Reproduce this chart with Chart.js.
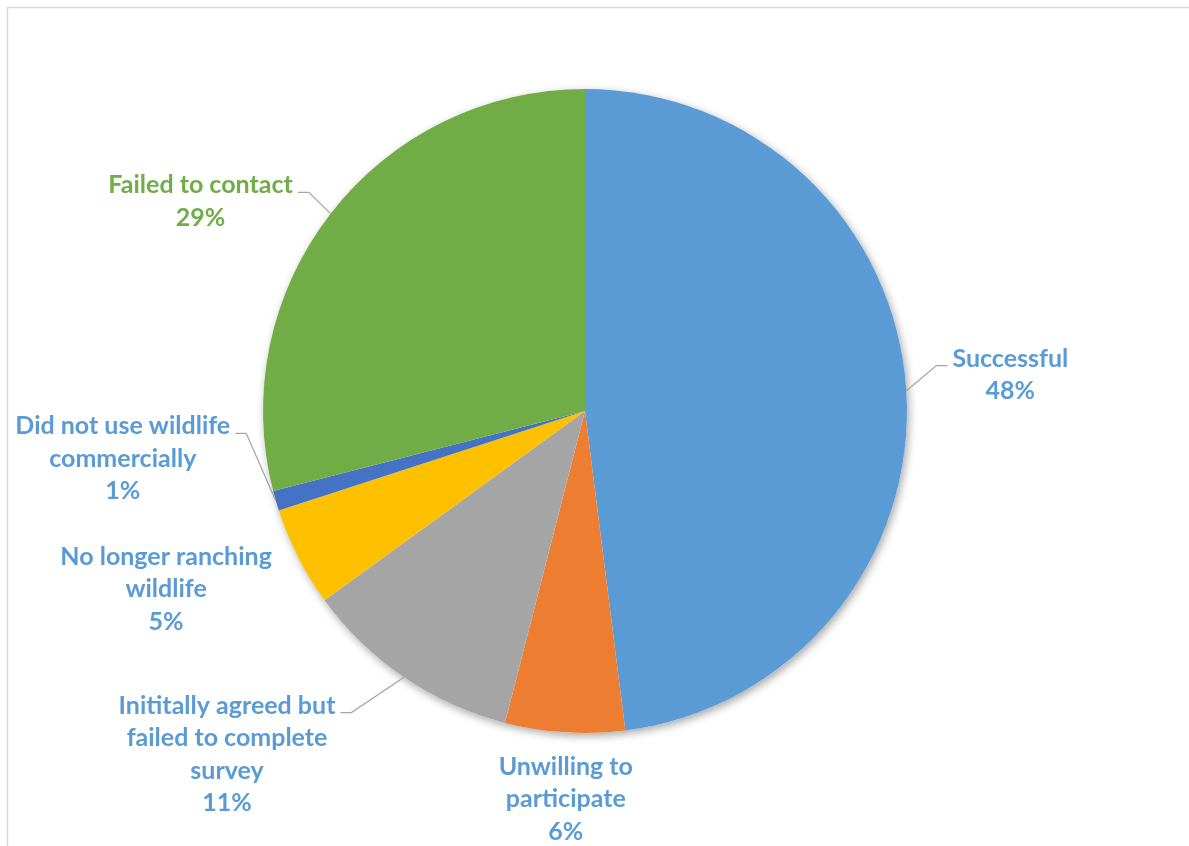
<!DOCTYPE html>
<html>
<head>
<meta charset="utf-8">
<script src="https://cdn.jsdelivr.net/npm/chart.js@4.4.1/dist/chart.umd.min.js"></script>
<style>
  html, body { margin: 0; padding: 0; background: #fff; }
  canvas { display: block; }
</style>
</head>
<body>
<canvas id="surveyPie" width="1189" height="846"></canvas>
<script>
// survey outcome categories (label lines as they wrap on the chart)
var categories = [
    ['Successful'],
    ['Unwilling to', 'participate'],
    ['Inititally agreed but', 'failed to complete', 'survey'],
    ['No longer ranching', 'wildlife'],
    ['Did not use wildlife', 'commercially'],
    ['Failed to contact']
];
var shares = [48, 6, 11, 5, 1, 29];
var sliceColors = ['#5B9BD5', '#ED7D31', '#A5A5A5', '#FFC000', '#4472C4', '#70AD47'];
var labelColors = ['#5B9BD5', '#5B9BD5', '#5B9BD5', '#5B9BD5', '#5B9BD5', '#70AD47'];

// where each label block sits, relative to the point where the slice's mid-angle meets the rim
var labelSpots = [
    { dx: 104, dy: -16, leader: true },
    { dx: 1, dy: 67, leader: false },
    { dx: -177, dy: 77, leader: true },
    { dx: -132, dy: 32, leader: false },
    { dx: -153, dy: -42, leader: true },
    { dx: -130, dy: -12, leader: true }
];

var FONT = 'bold 25px Lato, "Open Sans", sans-serif';
var LINE_H = 32.5;

// thin grey frame around the chart area
var framePlugin = {
    id: 'frame',
    beforeDraw: function(chart) {
        var ctx = chart.ctx;
        ctx.save();
        ctx.strokeStyle = '#d9d9d9';
        ctx.lineWidth = 1.5;
        ctx.strokeRect(7.5, 7.5, chart.width + 20, chart.height + 20);
        ctx.restore();
    }
};

// soft shadow under the whole pie
var shadowPlugin = {
    id: 'pieShadow',
    beforeDatasetsDraw: function(chart) {
        var arc = chart.getDatasetMeta(0).data[0];
        if (!arc) return;
        var ctx = chart.ctx;
        ctx.save();
        ctx.shadowColor = 'rgba(0,0,0,0.35)';
        ctx.shadowBlur = 9;
        ctx.shadowOffsetX = 2;
        ctx.shadowOffsetY = 3;
        ctx.fillStyle = '#fff';
        ctx.beginPath();
        ctx.arc(arc.x, arc.y, arc.outerRadius, 0, Math.PI * 2);
        ctx.fill();
        ctx.restore();
    }
};

// category name + percentage labels with elbow leader lines
var labelPlugin = {
    id: 'pieLabels',
    afterDatasetsDraw: function(chart) {
        var ctx = chart.ctx;
        var meta = chart.getDatasetMeta(0);
        var data = chart.data.datasets[0].data;
        var total = data.reduce(function(a, b) { return a + b; }, 0);
        ctx.save();
        ctx.font = FONT;
        ctx.textAlign = 'center';
        ctx.textBaseline = 'middle';
        meta.data.forEach(function(arc, i) {
            var mid = (arc.startAngle + arc.endAngle) / 2;
            var ex = arc.x + Math.cos(mid) * arc.outerRadius;
            var ey = arc.y + Math.sin(mid) * arc.outerRadius;
            var spot = labelSpots[i];
            var lines = chart.data.labels[i].concat([Math.round(data[i] / total * 100) + '%']);
            var cx = ex + spot.dx;
            var cy = ey + spot.dy;
            var top = cy - (lines.length - 1) * LINE_H / 2;

            if (spot.leader) {
                var w = ctx.measureText(lines[0]).width;
                var onRight = spot.dx > 0;
                var textEdge = onRight ? cx - w / 2 - 5 : cx + w / 2 + 5;
                var elbowX = onRight ? textEdge - 11 : textEdge + 11;
                var ly = top + 7;
                ctx.strokeStyle = '#a6a6a6';
                ctx.lineWidth = 1.3;
                ctx.beginPath();
                ctx.moveTo(textEdge, ly);
                ctx.lineTo(elbowX, ly);
                ctx.lineTo(ex, ey);
                ctx.stroke();
            }

            ctx.fillStyle = labelColors[i];
            lines.forEach(function(t, k) {
                ctx.fillText(t, cx, top + k * LINE_H);
            });
        });
        ctx.restore();
    }
};

var ctx = document.getElementById('surveyPie').getContext('2d');
var surveyChart = new Chart(ctx, {
    type: 'pie',
    data: {
        labels: categories,
        datasets: [{
            data: shares,
            backgroundColor: sliceColors,
            borderWidth: 0,
            hoverOffset: 0
        }]
    },
    options: {
        responsive: false,
        animation: false,
        events: [],
        layout: {
            padding: { top: 89, bottom: 113, left: 263, right: 282 }
        },
        plugins: {
            legend: { display: false },
            tooltip: { enabled: false }
        }
    },
    plugins: [framePlugin, shadowPlugin, labelPlugin]
});
</script>
</body>
</html>
